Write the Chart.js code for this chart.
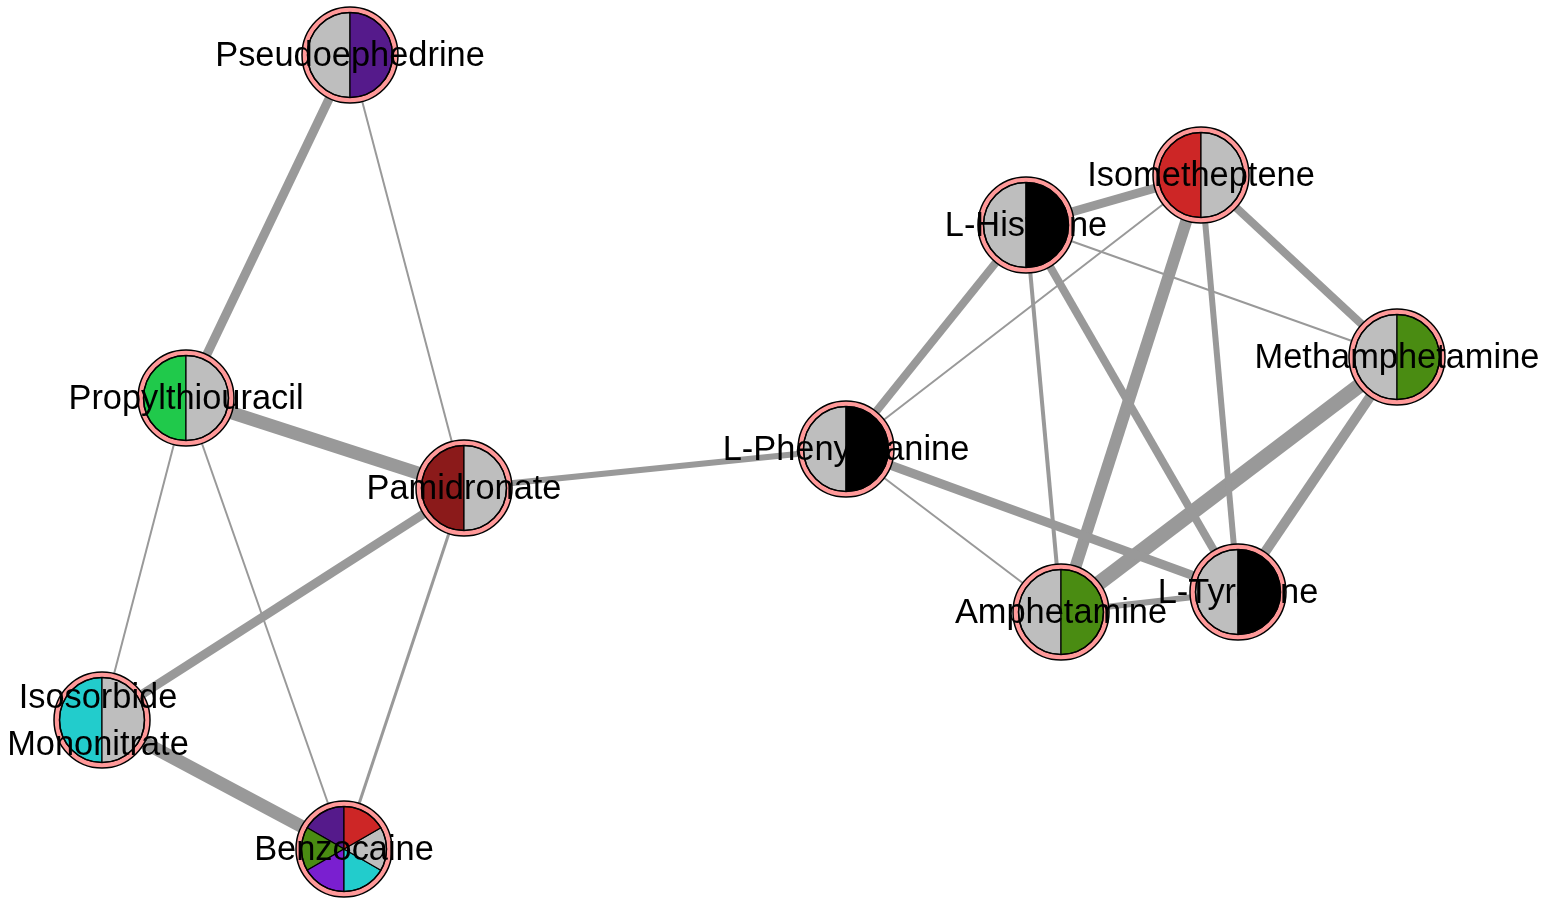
<!DOCTYPE html>
<html>
<head>
<meta charset="utf-8">
<script src="https://cdn.jsdelivr.net/npm/chart.js@4/dist/chart.umd.min.js"></script>
<style>
html,body{margin:0;padding:0;background:#fff;}
#wrap{width:1546px;height:902px;}
</style>
</head>
<body>
<div id="wrap"><canvas id="c" width="1546" height="902"></canvas></div>
<script>
// ---- data ----
const nodeNames = ["Pseudoephedrine","Propylthiouracil","Pamidronate","Isosorbide\nMononitrate","Benzocaine",
  "L-Phenylalanine","L-Histidine","Isometheptene","Methamphetamine","Amphetamine","L-Tyrosine"];
const nodeX = [350, 186, 464, 102, 344, 846, 1026, 1201, 1397, 1061, 1238];
const nodeY = [55, 398, 488, 720, 849, 449, 225, 175, 357, 612, 592];
// pie slices, counter-clockwise starting at the top
const nodeSlices = [
  ["#BEBEBE","#551A8B"],
  ["#20C94B","#BEBEBE"],
  ["#8B1A1A","#BEBEBE"],
  ["#22CCCC","#BEBEBE"],
  ["#551A8B","#4A8C12","#7A1FD0","#22CCCC","#BEBEBE","#CD2626"],
  ["#BEBEBE","#000000"],
  ["#BEBEBE","#000000"],
  ["#CD2626","#BEBEBE"],
  ["#BEBEBE","#4A8C12"],
  ["#BEBEBE","#4A8C12"],
  ["#BEBEBE","#000000"]
];
const edgeFrom   = [0,0,1,1,1,2,2,3,2, 5,5,5,5, 6,6,6,6, 7,7,7, 8,8, 9];
const edgeTo     = [1,2,2,3,4,3,4,4,5, 6,7,9,10, 7,8,9,10, 8,9,10, 9,10, 10];
const edgeWeight = [9,2,13,2,2,9,3,13,6, 8,2,2,9, 9,2,4,8, 8,12,6, 15,10, 6];

// ---- build datasets ----
const datasets = [];
datasets.push({
  label: "nodes",
  type: "scatter",
  data: nodeX.map((x, i) => ({x: x, y: nodeY[i]})),
  pointRadius: 0,
  pointHoverRadius: 0,
  order: 0
});
for (let k = 0; k < edgeFrom.length; k++) {
  const a = edgeFrom[k], b = edgeTo[k];
  datasets.push({
    label: "edge" + k,
    type: "line",
    data: [{x: nodeX[a], y: nodeY[a]}, {x: nodeX[b], y: nodeY[b]}],
    borderColor: "#999999",
    borderWidth: edgeWeight[k],
    pointRadius: 0,
    fill: false,
    tension: 0,
    borderCapStyle: "butt",
    order: 1
  });
}

const nodePlugin = {
  id: "nodePlugin",
  afterDatasetsDraw(chart) {
    const ctx = chart.ctx;
    const meta = chart.getDatasetMeta(0);
    const R = 48, r = 42.5;
    meta.data.forEach((pt, i) => {
      const cx = pt.x, cy = pt.y;
      ctx.save();
      ctx.beginPath();
      ctx.arc(cx, cy, R, 0, Math.PI * 2);
      ctx.fillStyle = "#FF9999";
      ctx.fill();
      ctx.lineWidth = 1.5;
      ctx.strokeStyle = "#000";
      ctx.stroke();
      const sl = nodeSlices[i];
      const n = sl.length;
      for (let s = 0; s < n; s++) {
        const a0 = -Math.PI / 2 - s * 2 * Math.PI / n;
        const a1 = -Math.PI / 2 - (s + 1) * 2 * Math.PI / n;
        ctx.beginPath();
        ctx.moveTo(cx, cy);
        ctx.arc(cx, cy, r, a0, a1, true);
        ctx.closePath();
        ctx.fillStyle = sl[s];
        ctx.fill();
        ctx.lineWidth = 1.2;
        ctx.strokeStyle = "#000";
        ctx.stroke();
      }
      ctx.beginPath();
      ctx.arc(cx, cy, r, 0, Math.PI * 2);
      ctx.lineWidth = 1.5;
      ctx.strokeStyle = "#000";
      ctx.stroke();
      ctx.restore();
    });
    ctx.save();
    ctx.font = "34.4px 'Liberation Sans', Arial, sans-serif";
    ctx.fillStyle = "#000";
    ctx.textAlign = "center";
    ctx.textBaseline = "middle";
    meta.data.forEach((pt, i) => {
      const lines = nodeNames[i].split("\n");
      const lh = 47;
      const y0 = pt.y + 2 - (lines.length - 1) * lh / 2;
      lines.forEach((ln, j) => ctx.fillText(ln, pt.x - (lines.length > 1 ? 4 : 0), y0 + j * lh));
    });
    ctx.restore();
  }
};

new Chart(document.getElementById("c"), {
  type: "scatter",
  data: { datasets: datasets },
  options: {
    responsive: false,
    devicePixelRatio: 1,
    animation: false,
    layout: { padding: 0 },
    plugins: { legend: { display: false }, tooltip: { enabled: false } },
    events: [],
    scales: {
      x: { type: "linear", min: 0, max: 1546, display: false },
      y: { type: "linear", min: 0, max: 902, reverse: true, display: false }
    }
  },
  plugins: [nodePlugin]
});
</script>
</body>
</html>
